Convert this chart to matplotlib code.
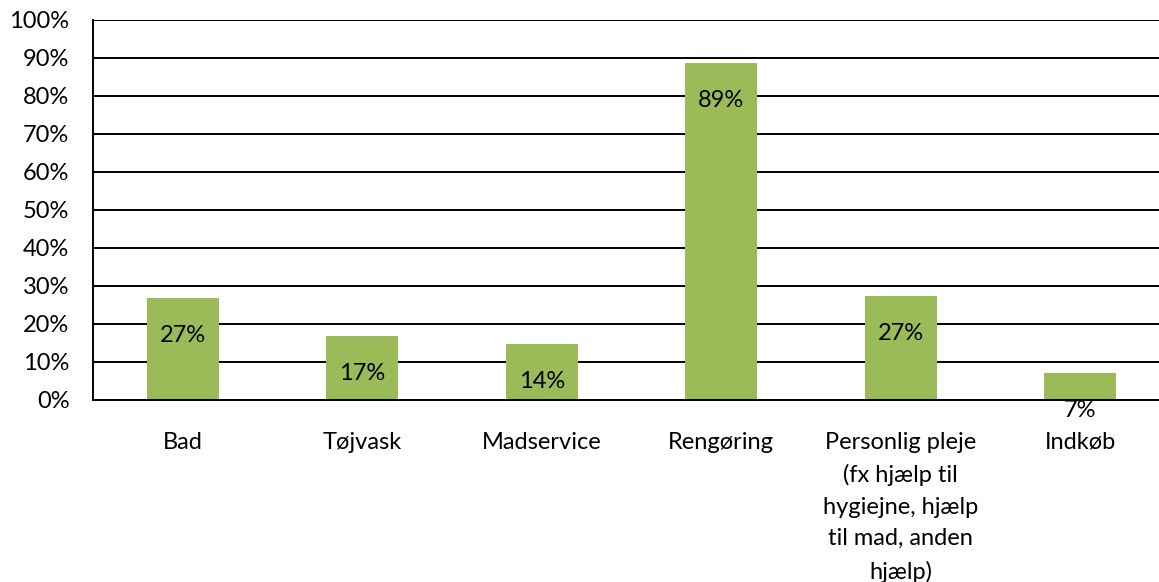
import matplotlib
matplotlib.use("Agg")
import matplotlib.pyplot as plt
from matplotlib.ticker import PercentFormatter

categories = ["Bad", "Tøjvask", "Madservice", "Rengøring",
              "Personlig pleje\n(fx hjælp til\nhygiejne, hjælp\ntil mad, anden\nhjælp)", "Indkøb"]
values = [26.8, 16.8, 14.7, 88.7, 27.4, 7.1]
labels = ["27%", "17%", "14%", "89%", "27%", "7%"]
yticks = list(range(0, 101, 10))

plt.rcParams['font.family'] = ['Lato', 'DejaVu Sans']

W, H = 1159, 582
fig = plt.figure(figsize=(W / 100, H / 100), dpi=100)
left, right, top, bottom = 93, 1170, 20, 400
ax = fig.add_axes([left / W, (H - bottom) / H, (right - left) / W, (bottom - top) / H])

x = list(range(len(categories)))
ax.set_axisbelow(True)
ax.bar(x, values, width=0.4, color="#9BBB59", zorder=2)
for xi, v, lab in zip(x, values, labels):
    ax.annotate(lab, (xi, v), xytext=(0, -27), textcoords="offset points",
                ha="center", va="center", fontsize=17, color="black", zorder=3)

ax.set_xlim(-0.5, len(categories) - 0.5)
ax.set_ylim(0, 100)
ax.set_yticks(yticks)
ax.yaxis.set_major_formatter(PercentFormatter(decimals=0))
ax.grid(axis="y", color="black", linewidth=1.4)
ax.set_xticks(x)
ax.set_xticklabels(categories, fontsize=17, linespacing=1.62, va="top")
ax.tick_params(axis="x", length=0, pad=23)
ax.tick_params(axis="y", length=0, pad=17, labelsize=17)
for s in ["top", "right"]:
    ax.spines[s].set_visible(False)
ax.spines["left"].set_linewidth(1.4)
ax.spines["bottom"].set_linewidth(1.4)

fig.savefig("out.png", dpi=100)
